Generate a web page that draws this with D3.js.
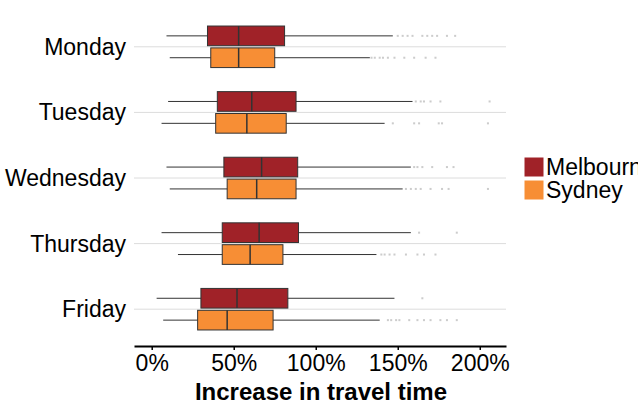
<!DOCTYPE html>
<html>
<head>
<meta charset="utf-8">
<script src="https://cdn.jsdelivr.net/npm/d3@7"></script>
<style>
body { margin: 0; background: #fff; }
text { font-family: "Liberation Sans", Arial, sans-serif; }
</style>
</head>
<body>
<div id="chart"></div>
<script>
// days and cities
var days = ["Monday", "Tuesday", "Wednesday", "Thursday", "Friday"];
var cities = ["Melbourne", "Sydney"];
var colors = ["#a02228", "#f78e35"];

// box stats in percent: [whiskerLow, q1, median, q3, whiskerHigh]
var melbourne = [
	[9, 34, 53, 81, 147],
	[10, 40, 61, 88, 159],
	[9, 44, 67, 89, 158],
	[6, 43, 65.5, 89.5, 158],
	[3, 30, 52, 83, 148]
];
var sydney = [
	[11, 36, 53, 75, 133],
	[6, 39, 58, 82, 142],
	[11, 46, 64, 88, 153],
	[16, 43, 60, 80, 137],
	[7, 28, 46, 74, 139]
];
// outliers
var melbourneOut = [
	[150, 153, 156, 159, 165, 168, 171, 174, 180, 185],
	[161, 164, 166, 170, 176, 206],
	[160, 162, 165, 171, 180, 184],
	[163, 186],
	[165]
];
var sydneyOut = [
	[134, 136, 139, 141, 144, 148, 154, 160, 167, 173],
	[147, 160, 163, 175, 177, 205],
	[155, 158, 161, 164, 170, 177, 181, 205],
	[140, 142, 145, 148, 155, 162, 166, 173],
	[144, 146, 149, 151, 157, 162, 166, 170, 176, 180, 186]
];
var ticks = [0, 50, 100, 150, 200];

var width = 638, height = 417;
var svg = d3.select("#chart").append("svg").attr("width", width).attr("height", height);

var x = d3.scaleLinear().domain([-10.8, 216]).range([134, 506]);
var y = d3.scaleBand().domain(days).range([14, 342]);
var sub = d3.scaleBand().domain(cities).range([0, y.bandwidth()]).paddingInner(0.1).paddingOuter(0.55);

//gridlines at category centres
svg.selectAll(".grid").data(days).enter().append("line")
	.attr("x1", 134).attr("x2", 506)
	.attr("y1", function (d) { return y(d) + y.bandwidth() / 2; })
	.attr("y2", function (d) { return y(d) + y.bandwidth() / 2; })
	.attr("stroke", "#dcdcdc").attr("stroke-width", 1);

var series = [melbourne, sydney];
var outs = [melbourneOut, sydneyOut];

cities.forEach(function (city, c) {
	var g = svg.append("g");
	days.forEach(function (day, i) {
		var s = series[c][i];
		var top = y(day) + sub(city);
		var h = sub.bandwidth();
		var mid = top + h / 2;
		g.append("line").attr("x1", x(s[0])).attr("x2", x(s[4]))
			.attr("y1", mid).attr("y2", mid).attr("stroke", "#333").attr("stroke-width", 1);
		g.append("rect").attr("x", x(s[1])).attr("y", top)
			.attr("width", x(s[3]) - x(s[1])).attr("height", h)
			.attr("fill", colors[c]).attr("stroke", "#333").attr("stroke-width", 1);
		g.append("line").attr("x1", x(s[2])).attr("x2", x(s[2]))
			.attr("y1", top).attr("y2", top + h).attr("stroke", "#333").attr("stroke-width", 1.5);
		g.selectAll(null).data(outs[c][i]).enter().append("rect")
			.attr("x", function (d) { return x(d) - 1; }).attr("y", mid - 1)
			.attr("width", 2).attr("height", 2)
			.attr("fill", "#999").attr("opacity", 0.5);
	});
});

//x axis
var xAxis = svg.append("g").attr("transform", "translate(0,346)")
	.call(d3.axisBottom(x).tickValues(ticks).tickFormat(function (d) { return d + "%"; }).tickSize(4).tickSizeOuter(0));
xAxis.select(".domain").attr("stroke", "#000").attr("stroke-width", 2);
xAxis.selectAll(".tick line").attr("stroke", "#000").attr("stroke-width", 1.5);
xAxis.selectAll(".tick text").attr("font-size", 23).attr("fill", "#000").attr("dy", "0.8em")
	.style("font-family", "Liberation Sans, Arial, sans-serif");

svg.append("text").attr("x", 321).attr("y", 400).attr("text-anchor", "middle")
	.attr("font-size", 24).attr("font-weight", "bold").text("Increase in travel time");

//y labels
svg.selectAll(".ylab").data(days).enter().append("text")
	.attr("x", 126).attr("y", function (d) { return y(d) + y.bandwidth() / 2; })
	.attr("dy", "0.35em").attr("text-anchor", "end").attr("font-size", 23).text(function (d) { return d; });

//legend
cities.forEach(function (city, c) {
	svg.append("rect").attr("x", 524).attr("y", 157 + c * 23).attr("width", 20).attr("height", 20)
		.attr("fill", colors[c]).attr("stroke", "#fff");
	svg.append("text").attr("x", 546).attr("y", 167 + c * 23).attr("dy", "0.35em")
		.attr("font-size", 23).text(city);
});
</script>
</body>
</html>
